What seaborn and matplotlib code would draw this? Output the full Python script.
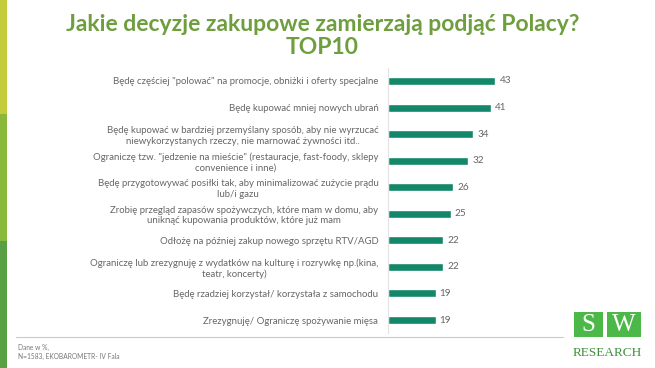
import pandas as pd
import seaborn as sns
import matplotlib.pyplot as plt
from matplotlib.patches import Rectangle
from matplotlib.lines import Line2D

# data (% of respondents)
labels = [
    'Będę częściej "polować" na promocje, obniżki i oferty specjalne',
    'Będę kupować mniej nowych ubrań',
    'Będę kupować w bardziej przemyślany sposób, aby nie wyrzucać\nniewykorzystanych rzeczy, nie marnować żywności itd..',
    'Ograniczę tzw. "jedzenie na mieście" (restauracje, fast-foody, sklepy\nconvenience i inne)',
    'Będę przygotowywać posiłki tak, aby minimalizować zużycie prądu\nlub/i gazu',
    'Zrobię przegląd zapasów spożywczych, które mam w domu, aby\nuniknąć kupowania produktów, które już mam',
    'Odłożę na później zakup nowego sprzętu RTV/AGD',
    'Ograniczę lub zrezygnuję z wydatków na kulturę i rozrywkę np.(kina,\nteatr, koncerty)',
    'Będę rzadziej korzystał/ korzystała z samochodu',
    'Zrezygnuję/ Ograniczę spożywanie mięsa',
]
values = [43, 41, 34, 32, 26, 25, 22, 22, 19, 19]

df = pd.DataFrame({'label': labels, 'value': values})

sns.set_style('white')
plt.rcParams['font.family'] = ['Lato', 'DejaVu Sans']

fig = plt.figure(figsize=(6.55, 3.68), dpi=100)
ax = fig.add_axes([0.5924, 0.0943, 0.1908, 0.7217])

sns.barplot(data=df, x='value', y='label', orient='h', color='#12876a',
            width=0.3, saturation=1, ax=ax)
ax.set_xlim(0, 50)
ax.set_xlabel('')
ax.set_ylabel('')
ax.set_xticks([])
ax.tick_params(axis='y', length=0, pad=7, labelsize=6.9, labelcolor='#666666')
for t in ax.get_yticklabels():
    t.set_multialignment('center')
for s in ['top', 'right', 'bottom']:
    ax.spines[s].set_visible(False)
ax.spines['left'].set_color('#e3e3e3')
ax.spines['left'].set_linewidth(0.8)
ax.bar_label(ax.containers[0], padding=3, fontsize=7.2, color='#666666')

# title
fig.text(0.492, 0.903, 'Jakie decyzje zakupowe zamierzają podjąć Polacy?\nTOP10',
         ha='center', va='center', fontsize=16.5, fontweight='bold',
         color='#6e9e3e', linespacing=1.1)

# coloured strip on the left
for y0, h, c in [(0.69, 0.31, '#c3cd3a'), (0.345, 0.345, '#8ab83a'), (0.0, 0.345, '#58a043')]:
    fig.add_artist(Rectangle((0, y0), 0.011, h, transform=fig.transFigure, color=c, lw=0))

# footer line and source
fig.add_artist(Line2D([0.025, 0.86], [0.083, 0.083], transform=fig.transFigure,
                      color='#c8ccc0', lw=0.8))
fig.text(0.027, 0.066, 'Dane w %,\nN=1583, EKOBAROMETR- IV Fala', ha='left', va='top',
         fontsize=4.8, color='#777777', linespacing=1.4)

# logo
fig.add_artist(Rectangle((0.876, 0.085), 0.045, 0.067, transform=fig.transFigure,
                         color='#4cb848', lw=0))
fig.add_artist(Rectangle((0.926, 0.085), 0.052, 0.067, transform=fig.transFigure,
                         color='#4cb848', lw=0))
fig.text(0.898, 0.116, 'S', ha='center', va='center', fontsize=18,
         family='Liberation Serif', color='white')
fig.text(0.952, 0.116, 'W', ha='center', va='center', fontsize=18,
         family='Liberation Serif', color='white')
fig.text(0.927, 0.04, 'RESEARCH', ha='center', va='center', fontsize=9.5,
         family='Liberation Serif', color='#3f8f3a')

fig.savefig('out.png', dpi=100)
